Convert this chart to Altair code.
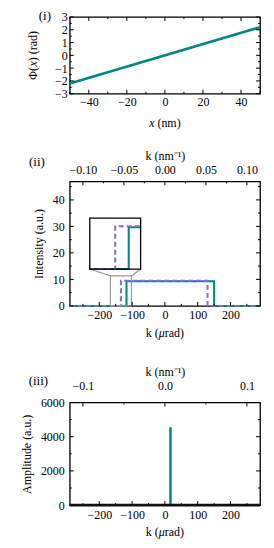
import altair as alt
import pandas as pd

FONT = "Liberation Serif"
TEAL = "#00877f"
PURPLE = "#8b6cc9"
GRAY = "#9a9a9a"

W = 191
H1, H2, H3 = 77, 125, 103

panel_labels = ["(i)", "(ii)", "(iii)"]
# axis titles as (text, italic) pieces
title_x_nm = [("x", True), (" (nm)", False)]
title_phase = [("Φ(", False), ("x", True), (") (rad)", False)]
title_k_urad = [("k (", False), ("μ", True), ("rad)", False)]

# ---------- (i) phase ----------
x_nm = [-50, 50]
phase_rad = [-2.2, 2.2]
x_dom = [-50, 50]
phase_dom = [-3, 3]
x_ticks = [-40, -20, 0, 20, 40]
x_minor = [-50, -30, -10, 10, 30, 50]
phase_ticks = [-3, -2, -1, 0, 1, 2, 3]
phase_minor = [-2.5, -1.5, -0.5, 0.5, 1.5, 2.5]

# ---------- (ii) intensity ----------
k_dom = [-290, 290]
knm_dom = [-0.116, 0.116]
k_teal = [-290, -117, -117, 150, 150, 290]
I_teal = [0, 0, 9.3, 9.3, 0, 0]
k_purple = [-290, -134, -134, 130, 130, 290]
I_purple = [0, 0, 9.5, 9.5, 0, 0]
I_dom = [0, 47]
zoom_k = [-166, -102]
zoom_I = [0, 11.3]
inset_k = [-229, -74]
inset_I = [13.9, 33.1]
k_ticks = [-200, -100, 0, 100, 200]
k_minor = [-250, -150, -50, 50, 150, 250]
knm_ticks2 = [-0.10, -0.05, 0.0, 0.05, 0.10]
knm_minor2 = [-0.075, -0.025, 0.025, 0.075]
I_ticks = [0, 10, 20, 30, 40]
I_minor = [5, 15, 25, 35, 45]

# ---------- (iii) amplitude ----------
spike_k = [17]
spike_amp = [4550]
base_k = [-290, 290]
base_amp = [0, 0]
amp_dom = [0, 6000]
amp_ticks = [0, 2000, 4000, 6000]
amp_minor = [1000, 3000, 5000]
knm_ticks3 = [-0.1, 0.0, 0.1]
knm_minor3 = [-0.05, 0.05]

# approximate Times-like glyph widths (em) for centring rich titles
WID = {"(": .333, ")": .333, " ": .25, "n": .5, "m": .778, "x": .444, "Φ": .76,
       "r": .333, "a": .444, "d": .5, "k": .5, "μ": .5}
FS = 12


def sc(dom, **kw):
    return alt.Scale(domain=dom, nice=False, zero=False, **kw)


def xaxis(values, fmt, title, orient, titleY, pad):
    return alt.Axis(orient=orient, values=values, format=fmt, title=title,
                    titleX=W / 2, titleY=titleY, titleBaseline="middle",
                    labelPadding=pad, ticks=False, tickSize=0, domain=False,
                    grid=False, labelFlush=False, labelOverlap=False, labelBound=False)


def yaxis(values, fmt, title, H, titleX, pad):
    return alt.Axis(orient="left", values=values, format=fmt, title=title,
                    titleX=titleX, titleY=H / 2, titleBaseline="middle", titleAngle=270,
                    labelPadding=pad, ticks=False, tickSize=0, domain=False,
                    grid=False, labelFlush=False, labelOverlap=False, labelBound=False)


def xticks(values, dom, H, L, side, axis=None):
    df = pd.DataFrame({"v": values})
    y0, y1 = (H, H - L) if side == "bottom" else (0, L)
    return alt.Chart(df).mark_rule(color="black", strokeWidth=1).encode(
        x=alt.X("v:Q", scale=sc(dom), axis=axis), y=alt.value(y0), y2=alt.value(y1))


def yticks(values, dom, L, side):
    df = pd.DataFrame({"v": values})
    x0, x1 = (0, L) if side == "left" else (W, W - L)
    return alt.Chart(df).mark_rule(color="black", strokeWidth=1).encode(
        y=alt.Y("v:Q", scale=sc(dom), axis=None), x=alt.value(x0), x2=alt.value(x1))


def label(text, x, y):
    return alt.Chart(pd.DataFrame({"t": [text]})).mark_text(
        font=FONT, fontSize=13, align="center", baseline="middle", color="black"
    ).encode(x=alt.value(x), y=alt.value(y), text="t:N")


def rich(pieces, cx, cy, vertical=False):
    widths = [sum(WID.get(c, .5) for c in t) * FS for t, _ in pieces]
    total = sum(widths)
    layers = []
    off = 0.0
    for (t, it), w in zip(pieces, widths):
        stripped = t.lstrip(" ")
        lead = (len(t) - len(stripped)) * WID[" "] * FS
        kw = dict(font=FONT, fontSize=FS, align="left", baseline="middle", color="black")
        if it:
            kw["fontStyle"] = "italic"
        if vertical:
            kw["angle"] = 270
            pos = dict(x=alt.value(cx), y=alt.value(cy + total / 2 - off - lead))
        else:
            pos = dict(x=alt.value(cx - total / 2 + off + lead), y=alt.value(cy))
        layers.append(alt.Chart(pd.DataFrame({"t": [stripped]})).mark_text(**kw).encode(text="t:N", **pos))
        off += w
    return layers


def px(v):
    return (v - k_dom[0]) / (k_dom[1] - k_dom[0]) * W


def py(v):
    return H2 - (v - I_dom[0]) / (I_dom[1] - I_dom[0]) * H2


# ---------- panel (i) ----------
df1 = pd.DataFrame({"x": x_nm, "y": phase_rad})
line1 = alt.Chart(df1).mark_line(color=TEAL, strokeWidth=2.5).encode(
    x=alt.X("x:Q", scale=sc(x_dom), axis=xaxis(x_ticks, "d", None, "bottom", 29.7, 3)),
    y=alt.Y("y:Q", scale=sc(phase_dom), axis=yaxis(phase_ticks, "d", None, H1, -36.5, 2.5)),
)
p1 = alt.layer(
    line1,
    xticks(x_ticks, x_dom, H1, 4, "bottom"), xticks(x_ticks, x_dom, H1, 4, "top"),
    xticks(x_minor, x_dom, H1, 2, "bottom"), xticks(x_minor, x_dom, H1, 2, "top"),
    yticks(phase_ticks, phase_dom, 4, "left"), yticks(phase_ticks, phase_dom, 4, "right"),
    yticks(phase_minor, phase_dom, 2, "left"), yticks(phase_minor, phase_dom, 2, "right"),
    *rich(title_x_nm, W / 2, H1 + 29.7),
    *rich(title_phase, -36.5, H1 / 2, vertical=True),
    label(panel_labels[0], -25, -1),
).resolve_scale(x="independent", y="independent").properties(width=W, height=H1)

# ---------- panel (ii) ----------
df_teal = pd.DataFrame({"k": k_teal, "I": I_teal, "i": list(range(len(k_teal)))})
df_purple = pd.DataFrame({"k": k_purple, "I": I_purple, "i": list(range(len(k_purple)))})

teal2 = alt.Chart(df_teal).mark_line(color=TEAL, strokeWidth=2).encode(
    x=alt.X("k:Q", scale=sc(k_dom), axis=xaxis(k_ticks, "d", None, "bottom", 27, 4)),
    y=alt.Y("I:Q", scale=sc(I_dom), axis=yaxis(I_ticks, "d", "Intensity (a.u.)", H2, -31, 5.5)),
    order="i:O",
)
purple2 = alt.Chart(df_purple).mark_line(color=PURPLE, strokeWidth=2, strokeDash=[5, 3]).encode(
    x=alt.X("k:Q", scale=sc(k_dom), axis=None),
    y=alt.Y("I:Q", scale=sc(I_dom), axis=None),
    order="i:O",
)
zoom_rect = alt.Chart(pd.DataFrame({"k0": [zoom_k[0]], "k1": [zoom_k[1]], "I0": [zoom_I[0]], "I1": [zoom_I[1]]})).mark_rect(
    fillOpacity=0, stroke=GRAY, strokeWidth=1.2
).encode(
    x=alt.X("k0:Q", scale=sc(k_dom), axis=None), x2="k1:Q",
    y=alt.Y("I0:Q", scale=sc(I_dom), axis=None), y2="I1:Q",
)
conn = alt.Chart(pd.DataFrame({
    "ka": [inset_k[0], inset_k[1]], "Ia": [inset_I[0], inset_I[0]],
    "kb": [zoom_k[0], zoom_k[1]], "Ib": [zoom_I[1], zoom_I[1]],
})).mark_rule(color=GRAY, strokeWidth=1.2).encode(
    x=alt.X("ka:Q", scale=sc(k_dom), axis=None), x2="kb:Q",
    y=alt.Y("Ia:Q", scale=sc(I_dom), axis=None), y2="Ib:Q",
)
df_inset = pd.DataFrame({"k0": [inset_k[0]], "k1": [inset_k[1]], "I0": [inset_I[0]], "I1": [inset_I[1]]})
inset_fill = alt.Chart(df_inset).mark_rect(fill="white", strokeWidth=0).encode(
    x=alt.X("k0:Q", scale=sc(k_dom), axis=None), x2="k1:Q",
    y=alt.Y("I0:Q", scale=sc(I_dom), axis=None), y2="I1:Q",
)
inset_stroke = alt.Chart(df_inset).mark_rect(fillOpacity=0, stroke="black", strokeWidth=1.3).encode(
    x=alt.X("k0:Q", scale=sc(k_dom), axis=None), x2="k1:Q",
    y=alt.Y("I0:Q", scale=sc(I_dom), axis=None), y2="I1:Q",
)
ix_scale = dict(domain=zoom_k, range=[px(inset_k[0]), px(inset_k[1])], clamp=True)
iy_scale = dict(domain=zoom_I, range=[py(inset_I[0]), py(inset_I[1])], clamp=True)
visible = (alt.datum.k <= zoom_k[1]) | (alt.datum.I > 0)
inset_teal = alt.Chart(df_teal).transform_filter(visible).mark_line(color=TEAL, strokeWidth=2).encode(
    x=alt.X("k:Q", scale=alt.Scale(nice=False, zero=False, **ix_scale), axis=None),
    y=alt.Y("I:Q", scale=alt.Scale(nice=False, zero=False, **iy_scale), axis=None),
    order="i:O",
)
inset_purple = alt.Chart(df_purple).transform_filter(visible).mark_line(color=PURPLE, strokeWidth=2, strokeDash=[5, 3]).encode(
    x=alt.X("k:Q", scale=alt.Scale(nice=False, zero=False, **ix_scale), axis=None),
    y=alt.Y("I:Q", scale=alt.Scale(nice=False, zero=False, **iy_scale), axis=None),
    order="i:O",
)
top2 = xticks(knm_ticks2, knm_dom, H2, 4, "top",
              axis=xaxis(knm_ticks2, ".2f", "k (nm⁻¹)", "top", -26, 5))
p2 = alt.layer(
    teal2, purple2, zoom_rect, conn, inset_fill, inset_teal, inset_purple, inset_stroke,
    xticks(k_ticks, k_dom, H2, 4, "bottom"), xticks(k_minor, k_dom, H2, 2, "bottom"),
    top2, xticks(knm_minor2, knm_dom, H2, 2, "top"),
    yticks(I_ticks, I_dom, 4, "left"), yticks(I_ticks, I_dom, 4, "right"),
    yticks(I_minor, I_dom, 2, "left"), yticks(I_minor, I_dom, 2, "right"),
    *rich(title_k_urad, W / 2, H2 + 27),
    label(panel_labels[1], -33, -19.3),
).resolve_scale(x="independent", y="independent").properties(width=W, height=H2)

# ---------- panel (iii) ----------
spike = alt.Chart(pd.DataFrame({"k": spike_k, "a": spike_amp, "a0": [0]})).mark_rule(
    color=TEAL, strokeWidth=2.5
).encode(
    x=alt.X("k:Q", scale=sc(k_dom), axis=xaxis(k_ticks, "d", None, "bottom", 27, 4)),
    y=alt.Y("a:Q", scale=sc(amp_dom), axis=yaxis(amp_ticks, "d", "Amplitude (a.u.)", H3, -43.7, 5.5)),
    y2="a0:Q",
)
base = alt.Chart(pd.DataFrame({"k": base_k, "a": base_amp})).mark_line(color="#111111", strokeWidth=2.6).encode(
    x=alt.X("k:Q", scale=sc(k_dom), axis=None),
    y=alt.Y("a:Q", scale=sc(amp_dom), axis=None),
)
top3 = xticks(knm_ticks3, knm_dom, H3, 4, "top",
              axis=xaxis(knm_ticks3, ".1f", "k (nm⁻¹)", "top", -31.3, 10))
p3 = alt.layer(
    spike, base,
    xticks(k_ticks, k_dom, H3, 4, "bottom"), xticks(k_minor, k_dom, H3, 2, "bottom"),
    top3, xticks(knm_minor3, knm_dom, H3, 2, "top"),
    yticks(amp_ticks, amp_dom, 4, "left"), yticks(amp_ticks, amp_dom, 4, "right"),
    yticks(amp_minor, amp_dom, 2, "left"), yticks(amp_minor, amp_dom, 2, "right"),
    *rich(title_k_urad, W / 2, H3 + 27),
    label(panel_labels[2], -31.5, -21.3),
).resolve_scale(x="independent", y="independent").properties(width=W, height=H3)

chart = alt.vconcat(
    alt.vconcat(p1, p2, spacing=18), p3, spacing=25
).properties(
    padding={"left": 11, "top": 0, "right": 0, "bottom": 0}
).configure_view(
    stroke="black", strokeWidth=1.3
).configure_axis(
    labelFont=FONT, labelFontSize=12, labelColor="black",
    titleFont=FONT, titleFontSize=12, titleFontWeight="normal", titleColor="black",
)

chart.save("out.html", embed_options={"renderer": "svg", "actions": False})
